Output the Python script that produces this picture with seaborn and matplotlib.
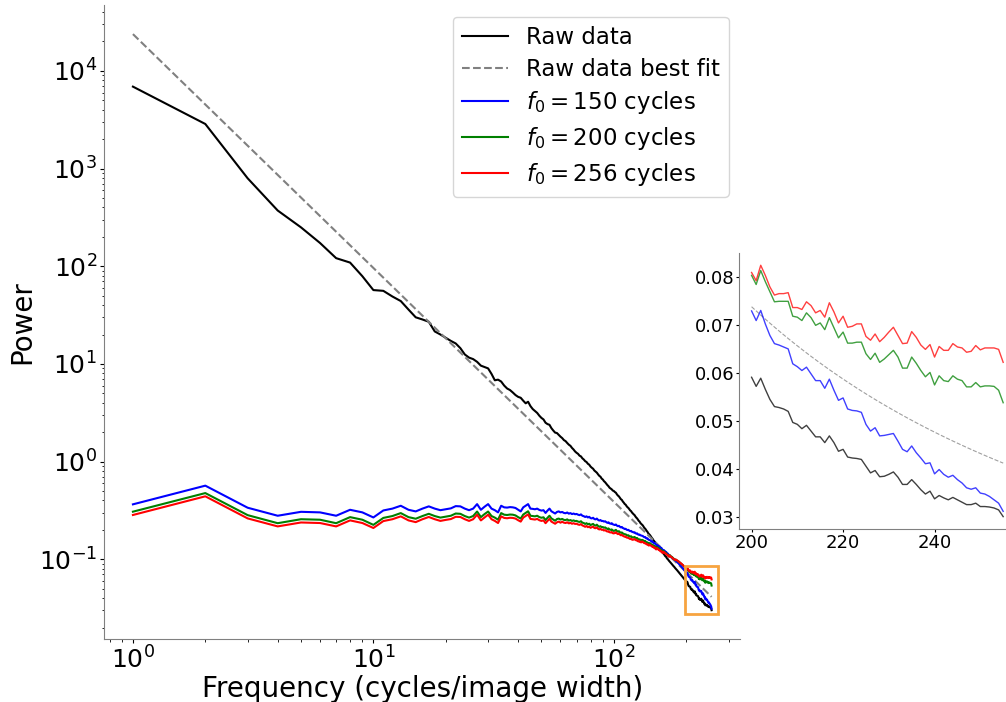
import numpy as np
import matplotlib
matplotlib.use("Agg")
import matplotlib.pyplot as plt
from matplotlib.patches import Rectangle
import seaborn as sns

# Radially averaged power spectrum, one value per integer frequency bin
freq = np.arange(1, 256)

raw_power = [
    6900, 2860, 795, 372, 250, 173, 121, 109, 79, 57,
    56, 49, 44, 36, 30, 28.5, 27, 21.5, 20, 18.5,
    17.2, 16.2, 14.5, 12.5, 11.6, 11.2, 10.5, 9.6, 9.3, 9.0,
    7.9, 6.8, 6.9, 6.6, 6.0, 5.6, 5.4, 5.1, 4.8, 4.6,
    4.5, 4.2, 3.95, 4.1, 3.7, 3.45, 3.3, 3.15, 2.95, 2.8,
    2.7, 2.5, 2.42, 2.38, 2.2, 2.08, 1.98, 1.96, 1.88, 1.80,
    1.74, 1.66, 1.62, 1.55, 1.49, 1.45, 1.38, 1.33, 1.27, 1.23,
    1.20, 1.15, 1.13, 1.08, 1.05, 1.01, 0.99, 0.95, 0.93, 0.89,
    0.865, 0.845, 0.81, 0.79, 0.77, 0.74, 0.715, 0.70, 0.67, 0.655,
    0.63, 0.615, 0.595, 0.575, 0.56, 0.54, 0.53, 0.52, 0.505, 0.50,
    0.488, 0.48, 0.462, 0.449, 0.44, 0.425, 0.412, 0.405, 0.39, 0.38,
    0.368, 0.362, 0.35, 0.341, 0.335, 0.325, 0.316, 0.311, 0.301, 0.294,
    0.288, 0.283, 0.274, 0.267, 0.262, 0.254, 0.247, 0.243, 0.235, 0.23,
    0.226, 0.222, 0.215, 0.209, 0.206, 0.200, 0.195, 0.191, 0.185, 0.181,
    0.178, 0.174, 0.169, 0.165, 0.162, 0.157, 0.154, 0.151, 0.146, 0.143,
    0.141, 0.138, 0.134, 0.131, 0.129, 0.126, 0.123, 0.121, 0.118, 0.116,
    0.114, 0.112, 0.109, 0.107, 0.106, 0.103, 0.101, 0.0998, 0.0975, 0.0958,
    0.0943, 0.0925, 0.0912, 0.0898, 0.0882, 0.0866, 0.0852, 0.0841, 0.0825, 0.0812,
    0.0800, 0.0789, 0.0774, 0.0764, 0.0750, 0.0740, 0.0726, 0.0716, 0.0703, 0.0694,
    0.0681, 0.0672, 0.0660, 0.0651, 0.0640, 0.0631, 0.0620, 0.0612, 0.0602, 0.0591,
    0.0572, 0.0589, 0.0566, 0.0545, 0.0530, 0.0528, 0.0525, 0.0520, 0.0497, 0.0493,
    0.0484, 0.0491, 0.0479, 0.0467, 0.0467, 0.0455, 0.0469, 0.0455, 0.0437, 0.0441,
    0.0425, 0.0423, 0.0422, 0.0420, 0.0406, 0.0392, 0.0397, 0.0384, 0.0385, 0.0389,
    0.0394, 0.0383, 0.0368, 0.0368, 0.0378, 0.0368, 0.0357, 0.0348, 0.0354, 0.0338,
    0.0345, 0.0340, 0.0336, 0.0341, 0.0336, 0.0331, 0.0326, 0.0326, 0.0329, 0.0322,
    0.0322, 0.0321, 0.0319, 0.0315, 0.0301,
]

f0_150_power = [
    0.365, 0.567, 0.337, 0.279, 0.306, 0.302, 0.279, 0.321, 0.302, 0.268,
    0.316, 0.330, 0.353, 0.321, 0.309, 0.330, 0.348, 0.330, 0.318, 0.325,
    0.332, 0.350, 0.348, 0.330, 0.318, 0.330, 0.367, 0.321, 0.345, 0.367,
    0.330, 0.318, 0.302, 0.353, 0.340, 0.338, 0.342, 0.340, 0.335, 0.322,
    0.309, 0.340, 0.353, 0.367, 0.330, 0.328, 0.325, 0.330, 0.320, 0.315,
    0.318, 0.298, 0.315, 0.330, 0.310, 0.302, 0.294, 0.305, 0.309, 0.302,
    0.305, 0.298, 0.296, 0.301, 0.293, 0.297, 0.290, 0.294, 0.289, 0.291,
    0.286, 0.283, 0.288, 0.279, 0.276, 0.271, 0.275, 0.268, 0.272, 0.264,
    0.262, 0.266, 0.258, 0.256, 0.261, 0.253, 0.249, 0.252, 0.246, 0.247,
    0.243, 0.245, 0.240, 0.236, 0.239, 0.233, 0.231, 0.234, 0.228, 0.226,
    0.224, 0.227, 0.221, 0.218, 0.220, 0.215, 0.212, 0.214, 0.209, 0.207,
    0.204, 0.205, 0.201, 0.199, 0.200, 0.196, 0.194, 0.195, 0.191, 0.190,
    0.188, 0.189, 0.185, 0.183, 0.184, 0.180, 0.178, 0.179, 0.176, 0.175,
    0.174, 0.173, 0.170, 0.168, 0.169, 0.165, 0.163, 0.164, 0.160, 0.158,
    0.157, 0.156, 0.153, 0.151, 0.152, 0.148, 0.146, 0.147, 0.143, 0.141,
    0.140, 0.139, 0.136, 0.134, 0.135, 0.131, 0.129, 0.130, 0.126, 0.125,
    0.124, 0.123, 0.121, 0.119, 0.119, 0.116, 0.114, 0.114, 0.111, 0.110,
    0.109, 0.107, 0.106, 0.105, 0.104, 0.102, 0.101, 0.100, 0.0990, 0.0980,
    0.0965, 0.0955, 0.0940, 0.0930, 0.0915, 0.0905, 0.0890, 0.0880, 0.0865, 0.0855,
    0.0840, 0.0830, 0.0815, 0.0805, 0.0790, 0.0778, 0.0765, 0.0755, 0.0742, 0.0729,
    0.0709, 0.0730, 0.0702, 0.0678, 0.0661, 0.0658, 0.0654, 0.0650, 0.0619, 0.0613,
    0.0605, 0.0612, 0.0598, 0.0584, 0.0584, 0.0568, 0.0587, 0.0564, 0.0543, 0.0548,
    0.0525, 0.0522, 0.0521, 0.0518, 0.0493, 0.0479, 0.0486, 0.0469, 0.0470, 0.0472,
    0.0474, 0.0458, 0.0441, 0.0436, 0.0448, 0.0434, 0.0423, 0.0411, 0.0413, 0.0390,
    0.0399, 0.0389, 0.0383, 0.0387, 0.0378, 0.0371, 0.0361, 0.0358, 0.0361, 0.0350,
    0.0348, 0.0343, 0.0336, 0.0329, 0.0312,
]

f0_200_power = [
    0.307, 0.476, 0.283, 0.234, 0.257, 0.254, 0.234, 0.270, 0.254, 0.225,
    0.265, 0.277, 0.297, 0.270, 0.260, 0.277, 0.292, 0.277, 0.267, 0.273,
    0.279, 0.294, 0.292, 0.277, 0.267, 0.277, 0.308, 0.270, 0.290, 0.308,
    0.277, 0.267, 0.254, 0.297, 0.286, 0.284, 0.287, 0.286, 0.281, 0.270,
    0.261, 0.287, 0.298, 0.310, 0.279, 0.277, 0.275, 0.279, 0.270, 0.266,
    0.269, 0.252, 0.266, 0.279, 0.262, 0.255, 0.248, 0.258, 0.261, 0.255,
    0.259, 0.253, 0.252, 0.256, 0.249, 0.252, 0.247, 0.250, 0.246, 0.247,
    0.243, 0.241, 0.245, 0.237, 0.235, 0.230, 0.234, 0.228, 0.231, 0.224,
    0.227, 0.230, 0.223, 0.221, 0.226, 0.219, 0.215, 0.218, 0.213, 0.214,
    0.210, 0.212, 0.208, 0.204, 0.207, 0.202, 0.200, 0.202, 0.197, 0.195,
    0.197, 0.200, 0.194, 0.192, 0.194, 0.189, 0.187, 0.188, 0.184, 0.182,
    0.180, 0.180, 0.177, 0.175, 0.176, 0.172, 0.171, 0.172, 0.168, 0.167,
    0.168, 0.169, 0.166, 0.164, 0.165, 0.161, 0.159, 0.160, 0.158, 0.157,
    0.158, 0.157, 0.155, 0.153, 0.154, 0.150, 0.148, 0.149, 0.146, 0.144,
    0.146, 0.145, 0.142, 0.140, 0.141, 0.138, 0.136, 0.137, 0.133, 0.131,
    0.133, 0.132, 0.129, 0.128, 0.129, 0.125, 0.123, 0.124, 0.120, 0.119,
    0.121, 0.120, 0.118, 0.116, 0.116, 0.113, 0.111, 0.111, 0.108, 0.107,
    0.110, 0.108, 0.107, 0.106, 0.105, 0.103, 0.102, 0.101, 0.0998, 0.0988,
    0.0989, 0.0983, 0.0971, 0.0964, 0.0953, 0.0946, 0.0934, 0.0927, 0.0914, 0.0907,
    0.0895, 0.0887, 0.0874, 0.0867, 0.0854, 0.0844, 0.0833, 0.0825, 0.0814, 0.0803,
    0.0784, 0.0813, 0.0790, 0.0769, 0.0748, 0.0749, 0.0749, 0.0749, 0.0718, 0.0716,
    0.0709, 0.0725, 0.0715, 0.0699, 0.0704, 0.0690, 0.0715, 0.0694, 0.0673, 0.0685,
    0.0662, 0.0662, 0.0664, 0.0664, 0.0640, 0.0628, 0.0641, 0.0622, 0.0629, 0.0638,
    0.0647, 0.0633, 0.0610, 0.0610, 0.0633, 0.0620, 0.0605, 0.0592, 0.0601, 0.0575,
    0.0594, 0.0584, 0.0582, 0.0594, 0.0587, 0.0584, 0.0571, 0.0571, 0.0580, 0.0571,
    0.0573, 0.0573, 0.0572, 0.0564, 0.0538,
]

f0_256_power = [
    0.284, 0.441, 0.262, 0.217, 0.238, 0.235, 0.217, 0.250, 0.235, 0.209,
    0.246, 0.257, 0.275, 0.250, 0.240, 0.257, 0.271, 0.257, 0.247, 0.253,
    0.258, 0.272, 0.271, 0.257, 0.247, 0.257, 0.286, 0.250, 0.268, 0.286,
    0.257, 0.247, 0.235, 0.275, 0.265, 0.263, 0.266, 0.265, 0.261, 0.251,
    0.243, 0.267, 0.277, 0.288, 0.259, 0.257, 0.255, 0.259, 0.251, 0.247,
    0.250, 0.234, 0.247, 0.259, 0.243, 0.237, 0.231, 0.239, 0.243, 0.237,
    0.242, 0.237, 0.235, 0.239, 0.233, 0.236, 0.231, 0.234, 0.230, 0.231,
    0.227, 0.225, 0.229, 0.222, 0.219, 0.215, 0.219, 0.213, 0.216, 0.210,
    0.213, 0.216, 0.209, 0.208, 0.212, 0.205, 0.202, 0.205, 0.200, 0.201,
    0.197, 0.199, 0.195, 0.192, 0.194, 0.189, 0.188, 0.190, 0.185, 0.184,
    0.186, 0.189, 0.184, 0.181, 0.183, 0.179, 0.176, 0.178, 0.174, 0.172,
    0.170, 0.171, 0.167, 0.166, 0.166, 0.163, 0.161, 0.162, 0.159, 0.158,
    0.160, 0.161, 0.158, 0.156, 0.157, 0.153, 0.152, 0.153, 0.150, 0.149,
    0.152, 0.151, 0.148, 0.146, 0.147, 0.144, 0.142, 0.143, 0.140, 0.138,
    0.141, 0.140, 0.137, 0.135, 0.136, 0.133, 0.131, 0.132, 0.128, 0.126,
    0.130, 0.129, 0.126, 0.124, 0.125, 0.121, 0.120, 0.121, 0.117, 0.116,
    0.119, 0.118, 0.116, 0.114, 0.114, 0.112, 0.110, 0.110, 0.107, 0.106,
    0.109, 0.107, 0.106, 0.105, 0.104, 0.102, 0.101, 0.100, 0.0993, 0.0983,
    0.0993, 0.0987, 0.0975, 0.0968, 0.0956, 0.0949, 0.0937, 0.0930, 0.0918, 0.0911,
    0.0898, 0.0891, 0.0878, 0.0870, 0.0857, 0.0847, 0.0836, 0.0828, 0.0817, 0.0809,
    0.0792, 0.0824, 0.0803, 0.0779, 0.0762, 0.0765, 0.0765, 0.0767, 0.0736, 0.0736,
    0.0732, 0.0748, 0.0740, 0.0725, 0.0730, 0.0716, 0.0746, 0.0727, 0.0704, 0.0718,
    0.0695, 0.0697, 0.0702, 0.0702, 0.0676, 0.0668, 0.0681, 0.0665, 0.0674, 0.0685,
    0.0695, 0.0678, 0.0661, 0.0662, 0.0686, 0.0674, 0.0658, 0.0649, 0.0659, 0.0633,
    0.0655, 0.0647, 0.0647, 0.0661, 0.0654, 0.0652, 0.0643, 0.0645, 0.0657, 0.0648,
    0.0652, 0.0652, 0.0652, 0.0649, 0.0622,
]

# Power-law fit to the raw spectrum: P = A * f**b
fit_amplitude = 2.38e4
fit_exponent = -2.394

labels = [
    "Raw data",
    "Raw data best fit",
    r"$f_0 = 150$ cycles",
    r"$f_0 = 200$ cycles",
    r"$f_0 = 256$ cycles",
]
colors = ["black", "gray", "blue", "green", "red"]
zoom_start = 200

plt.rcParams["font.family"] = ["DejaVu Sans"]
plt.rcParams["mathtext.fontset"] = "dejavusans"

fit_power = fit_amplitude * freq.astype(float) ** fit_exponent
curves = [np.asarray(raw_power), fit_power, np.asarray(f0_150_power),
          np.asarray(f0_200_power), np.asarray(f0_256_power)]
styles = ["-", "--", "-", "-", "-"]

fig = plt.figure(figsize=(10.06, 7.02), dpi=100)
W, H = 1006, 702

# Main log-log spectrum
ax = fig.add_axes([104 / W, 1 - 639 / H, 636.5 / W, 633.7 / H])
ax.set(xscale="log", yscale="log")
for y, lab, col, ls in zip(curves, labels, colors, styles):
    sns.lineplot(x=freq, y=y, ax=ax, color=col, linestyle=ls, linewidth=1.5,
                 label=lab, estimator=None, legend=False)

ax.set_xlabel("Frequency (cycles/image width)", fontsize=20, labelpad=1)
ax.set_ylabel("Power", fontsize=20, labelpad=2)
ax.tick_params(axis="both", which="major", labelsize=18, length=3, pad=2)
ax.tick_params(axis="both", which="minor", length=1.8)
sns.despine(ax=ax)
for side in ("left", "bottom"):
    ax.spines[side].set_color("#808080")
ax.legend(loc="upper right", fontsize=16.5, labelspacing=0.38)

# Zoomed view of the high-frequency tail
axins = fig.add_axes([739 / W, 1 - 529.2 / H, 332.8 / W, 276.5 / H])
mask = freq >= zoom_start
for y, col, ls in zip(curves, colors, styles):
    lw = 0.8 if ls == "--" else 1.0
    sns.lineplot(x=freq[mask], y=y[mask], ax=axins, color=col, linestyle=ls,
                 linewidth=lw, alpha=0.75, estimator=None, legend=False)
axins.set_xlim(197.25, 270)
axins.set_xticks([200, 220, 240])
axins.tick_params(axis="both", labelsize=13, length=2, pad=1.5)
sns.despine(ax=axins)
for side in ("left", "bottom"):
    axins.spines[side].set_color("#808080")

# Outline of the zoomed region on the main axes
ax.set_xlim(ax.get_xlim())
ax.set_ylim(ax.get_ylim())
x0, x1 = axins.get_xlim()
y0, y1 = axins.get_ylim()
ax.add_patch(Rectangle((x0, y0), x1 - x0, y1 - y0, fill=False,
                       edgecolor="#f7a440", linewidth=2, zorder=6))

fig.savefig("out.png", dpi=100)
